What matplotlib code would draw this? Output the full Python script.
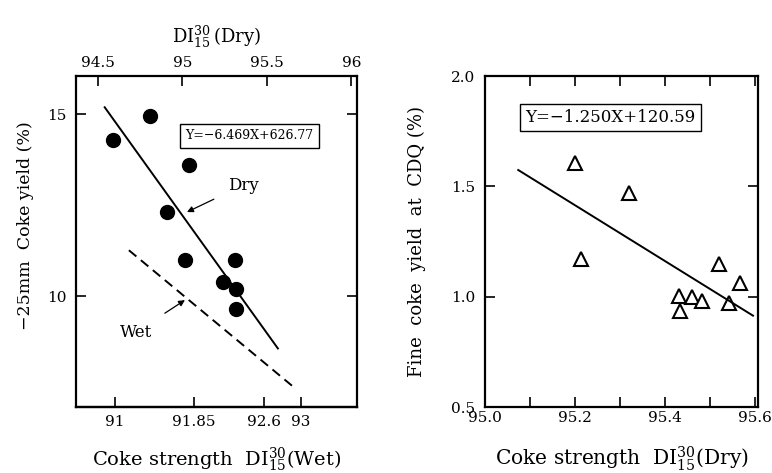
import matplotlib
matplotlib.use('Agg')
import matplotlib.pyplot as plt
import numpy as np

plt.rcParams['font.family'] = ['DejaVu Serif']
plt.rcParams['mathtext.fontset'] = 'dejavuserif'

# left panel: -25mm coke yield vs DI (dry), wet scale on the bottom axis
dry_x = [94.59, 94.81, 95.04, 94.91, 95.015, 95.31, 95.24, 95.315, 95.32]
dry_y = [14.30, 14.95, 13.59, 12.31, 11.00, 11.00, 10.39, 10.19, 9.64]
dry_slope, dry_icpt = -6.469, 626.77
dry_line_x = [94.54, 95.565]
wet_line_x = [91.154, 92.908]          # in wet DI units
wet_line_y = [11.26, 7.53]

top_ticks = [94.5, 95, 95.5, 96]
bottom_ticks = [91, 91.85, 92.6, 93]
left_yticks = [10, 15]

# right panel: fine coke yield at CDQ vs DI (dry)
cdq_x = [95.20, 95.32, 95.213, 95.52, 95.567, 95.432, 95.46, 95.483, 95.543, 95.433]
cdq_y = [1.606, 1.471, 1.173, 1.149, 1.062, 1.001, 0.998, 0.982, 0.971, 0.936]
cdq_fit_x = [95.074, 95.596]
cdq_fit_y = [1.574, 0.914]
right_xticks = [95.0, 95.2, 95.4, 95.6]
right_yticks = [0.5, 1.0, 1.5, 2.0]


def dry2wet(d):
    return 90.8216 + 1.8143 * (np.asarray(d) - 94.5)


def wet2dry(w):
    return 94.5 + (np.asarray(w) - 90.8216) / 1.8143


fig = plt.figure(figsize=(7.72, 4.73), dpi=100)
ax1 = fig.add_axes([0.0984, 0.1395, 0.364, 0.6998])
ax2 = fig.add_axes([0.6282, 0.1395, 0.3536, 0.6998])

# ---- left panel
ax1.plot(dry_x, dry_y, 'o', color='black', markersize=10)
lx = np.array(dry_line_x)
ax1.plot(lx, dry_slope * lx + dry_icpt, color='black', lw=1.4)
ax1.plot(wet2dry(wet_line_x), wet_line_y, color='black', lw=1.4,
         linestyle=(0, (5, 3)))
ax1.set_xlim(94.37, 96.033)
ax1.set_ylim(6.95, 16.05)

ax1.xaxis.tick_top()
ax1.set_xticks(top_ticks)
ax1.set_xticklabels(['94.5', '95', '95.5', '96'])
ax1.xaxis.set_label_position('top')
ax1.set_xlabel(r'$\mathrm{DI}^{30}_{15}\,$(Dry)', fontsize=13, labelpad=10)
ax1.set_yticks(left_yticks)
ax1.tick_params(direction='in', length=7, width=1.2, labelsize=11,
                top=True, bottom=False, left=True, right=True,
                labeltop=True, labelbottom=False, pad=4)
ax1.tick_params(axis='y', pad=7)
ax1.set_ylabel('\u221225mm  Coke yield (%)', fontsize=12.5)
ax1.yaxis.set_label_coords(-0.15, 0.547)

sec = ax1.secondary_xaxis('bottom', functions=(dry2wet, wet2dry))
sec.set_xticks(bottom_ticks)
sec.set_xticklabels(['91', '91.85', '92.6', '93'])
sec.tick_params(direction='in', length=7, width=1.2, labelsize=11, pad=6)
sec.set_xlabel(r'Coke strength  $\mathrm{DI}^{30}_{15}$(Wet)', fontsize=14,
               labelpad=12)
sec.spines['bottom'].set_linewidth(1.6)
for s in ax1.spines.values():
    s.set_linewidth(1.6)

ax1.text(95.396, 14.41, 'Y=\u22126.469X+626.77', fontsize=9, ha='center',
         va='center', bbox=dict(boxstyle='square,pad=0.45', fc='white',
                                ec='black', lw=1.0))
ax1.annotate('Dry', xy=(95.027, 12.31), xytext=(95.36, 13.05), fontsize=12,
             ha='center', va='center',
             arrowprops=dict(arrowstyle='-|>', color='black', lw=0.9,
                             shrinkA=9, shrinkB=0, mutation_scale=9))
ax1.annotate('Wet', xy=(95.015, 9.89), xytext=(94.725, 9.01), fontsize=12,
             ha='center', va='center',
             arrowprops=dict(arrowstyle='-|>', color='black', lw=0.9,
                             shrinkA=10, shrinkB=0, mutation_scale=9))

# ---- right panel
ax2.plot(cdq_x, cdq_y, '^', markerfacecolor='white', markeredgecolor='black',
         markeredgewidth=1.5, markersize=10.5)
ax2.plot(cdq_fit_x, cdq_fit_y, color='black', lw=1.4)
ax2.set_xlim(95.0, 95.607)
ax2.set_ylim(0.5, 2.0)
ax2.set_xticks(right_xticks)
ax2.set_xticks([95.1, 95.3, 95.5], minor=True)
ax2.set_xticklabels(['95.0', '95.2', '95.4', '95.6'])
ax2.set_yticks(right_yticks)
ax2.set_yticklabels(['0.5', '1.0', '1.5', '2.0'])
ax2.tick_params(which='both', direction='in', length=7, width=1.2,
                labelsize=11, top=True, right=True, pad=3)
ax2.tick_params(axis='y', pad=7)
ax2.set_xlabel(r'Coke strength  $\mathrm{DI}^{30}_{15}$(Dry)', fontsize=14.5,
               labelpad=14)
ax2.set_ylabel('Fine  coke  yield  at  CDQ (%)', fontsize=13, labelpad=18)
for s in ax2.spines.values():
    s.set_linewidth(1.6)
ax2.text(95.279, 1.814, 'Y=\u22121.250X+120.59', fontsize=12, ha='center',
         va='center', bbox=dict(boxstyle='square,pad=0.3', fc='white',
                                ec='black', lw=1.0))

fig.savefig('out.png', dpi=100)
